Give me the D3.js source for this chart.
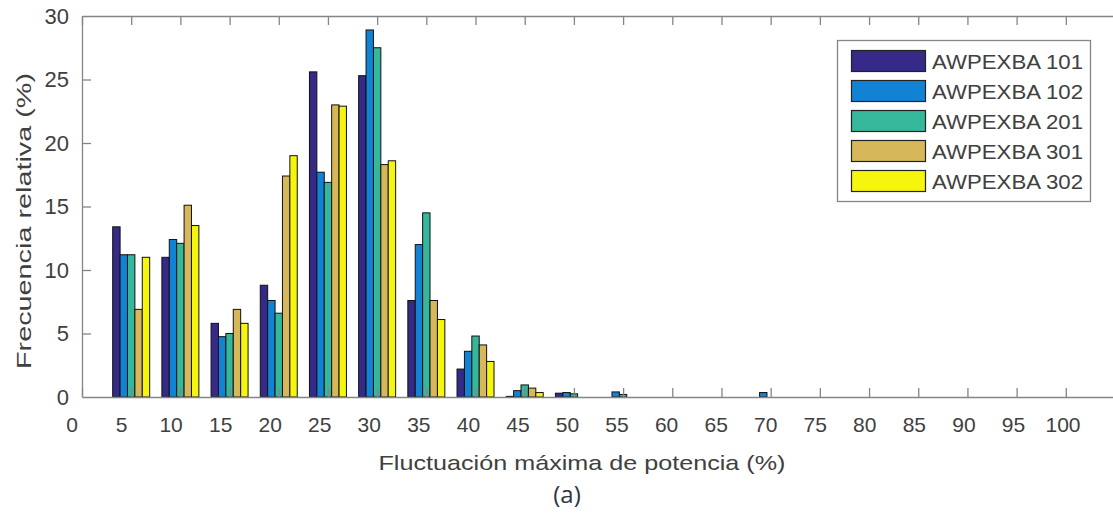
<!DOCTYPE html>
<html>
<head>
<meta charset="utf-8">
<script src="https://cdn.jsdelivr.net/npm/d3@7"></script>
<style>
  html, body { margin: 0; padding: 0; background: #fff; }
  svg { display: block; }
  text { font-family: "Liberation Sans", Arial, sans-serif; }
</style>
</head>
<body>
<svg id="chart" width="1113" height="513"></svg>
<script>
// Bin centres of the maximum power fluctuation (%)
const categories = [5, 10, 15, 20, 25, 30, 35, 40, 45, 50, 55, 60, 65, 70];
const seriesNames = ["AWPEXBA 101", "AWPEXBA 102", "AWPEXBA 201", "AWPEXBA 301", "AWPEXBA 302"];

// Relative frequency (%) per bin, one array per inverter
const awpexba101 = [13.4, 11.0, 5.8, 8.8, 25.6, 25.3, 7.6, 2.2, 0.05, 0.3, 0.0, 0.0, 0.0, 0.0];
const awpexba102 = [11.2, 12.4, 4.75, 7.6, 17.7, 28.9, 12.0, 3.6, 0.5, 0.35, 0.4, 0.0, 0.0, 0.35];
const awpexba201 = [11.2, 12.1, 5.0, 6.6, 16.9, 27.5, 14.5, 4.8, 0.95, 0.25, 0.2, 0.0, 0.0, 0.0];
const awpexba301 = [6.9, 15.1, 6.9, 17.4, 23.0, 18.3, 7.6, 4.1, 0.7, 0.0, 0.0, 0.0, 0.0, 0.0];
const awpexba302 = [11.0, 13.5, 5.8, 19.0, 22.9, 18.6, 6.1, 2.8, 0.35, 0.0, 0.0, 0.0, 0.0, 0.0];
const seriesValues = [awpexba101, awpexba102, awpexba201, awpexba301, awpexba302];

const colors = ["#352a87", "#1283d4", "#35b79b", "#d6b85a", "#f5f50e"];

const xTicks = d3.range(0, 101, 5);
const yTicks = [0, 5, 10, 15, 20, 25, 30];

const xLabel = "Fluctuación máxima de potencia (%)";
const yLabel = "Frecuencia relativa (%)";
const caption = "(a)";

const svg = d3.select("#chart");
const axisColor = "#858585";
const textColor = "#404040";

const x = d3.scaleLinear().domain([0, 105]).range([82, 1115]);
const xLabelPos = d3.scaleLinear().domain([0, 100]).range([72, 1063]);
const y = d3.scaleLinear().domain([0, 30]).range([397, 16]);

// offset of each series inside a bin, in data units
const inner = d3.scaleBand().domain(seriesNames).range([-1.88, 1.88]);

// bars
const rows = [];
categories.forEach((c, i) => {
  seriesNames.forEach((s, j) => {
    rows.push({ c, s, j, v: seriesValues[j][i] });
  });
});

svg.append("g")
  .selectAll("rect")
  .data(rows)
  .join("rect")
  .attr("x", d => x(d.c + inner(d.s)))
  .attr("width", d => x(d.c + inner(d.s) + inner.bandwidth()) - x(d.c + inner(d.s)))
  .attr("y", d => y(d.v))
  .attr("height", d => y(0) - y(d.v))
  .attr("fill", d => colors[d.j])
  .attr("stroke", "#111")
  .attr("stroke-width", 1);

// axes (ticks point inward)
function styleAxis(g) {
  g.selectAll("path.domain").attr("stroke", axisColor).attr("stroke-width", 1.3);
  g.selectAll(".tick line").attr("stroke", axisColor).attr("stroke-width", 1.3);
}

const gxb = svg.append("g")
  .attr("transform", `translate(0,${y(0)})`)
  .call(d3.axisBottom(x).tickValues(xTicks).tickSizeInner(-9).tickSizeOuter(0).tickFormat(""));
styleAxis(gxb);

const gxt = svg.append("g")
  .attr("transform", `translate(0,${y(30)})`)
  .call(d3.axisTop(x).tickValues(xTicks).tickSizeInner(-9).tickSizeOuter(0).tickFormat(""));
styleAxis(gxt);

const gyl = svg.append("g")
  .attr("transform", `translate(${x(0)},0)`)
  .call(d3.axisLeft(y).tickValues(yTicks).tickSizeInner(-9).tickSizeOuter(0).tickPadding(13));
styleAxis(gyl);
gyl.selectAll(".tick text")
  .attr("fill", textColor)
  .style("font-size", "22px")
  .style("font-family", "'Liberation Sans', Arial, sans-serif");
gyl.selectAll(".tick").filter(d => d === 0 || d === 30).select("line").remove();

// x tick labels
svg.append("g")
  .selectAll("text")
  .data(xTicks)
  .join("text")
  .attr("x", d => xLabelPos(d))
  .attr("y", 432)
  .attr("text-anchor", "middle")
  .attr("fill", textColor)
  .style("font-size", "21px")
  .text(d => d);

// axis titles
svg.append("text")
  .attr("x", 582)
  .attr("y", 470)
  .attr("text-anchor", "middle")
  .attr("fill", textColor)
  .attr("textLength", 407)
  .attr("lengthAdjust", "spacingAndGlyphs")
  .style("font-size", "21px")
  .text(xLabel);

svg.append("text")
  .attr("transform", "translate(31,221) rotate(-90)")
  .attr("text-anchor", "middle")
  .attr("fill", textColor)
  .attr("textLength", 296)
  .attr("lengthAdjust", "spacingAndGlyphs")
  .style("font-size", "21px")
  .text(yLabel);

svg.append("text")
  .attr("x", 567)
  .attr("y", 503)
  .attr("text-anchor", "middle")
  .attr("fill", "#2f3440")
  .style("font-size", "24px")
  .style("font-family", "'Open Sans', sans-serif")
  .text(caption);

// legend
const legend = svg.append("g");
legend.append("rect")
  .attr("x", 837.5).attr("y", 40.5)
  .attr("width", 253).attr("height", 161)
  .attr("fill", "#fff")
  .attr("stroke", axisColor)
  .attr("stroke-width", 1.3);

const item = legend.selectAll("g.item")
  .data(seriesNames)
  .join("g")
  .attr("class", "item")
  .attr("transform", (d, i) => `translate(0,${50 + i * 30})`);

item.append("rect")
  .attr("x", 851.5).attr("y", 0.5)
  .attr("width", 74).attr("height", 21)
  .attr("fill", (d, i) => colors[i])
  .attr("stroke", "#222")
  .attr("stroke-width", 1.2);

item.append("text")
  .attr("x", 932)
  .attr("y", 19)
  .attr("fill", textColor)
  .attr("textLength", 151)
  .attr("lengthAdjust", "spacingAndGlyphs")
  .style("font-size", "21px")
  .text(d => d);
</script>
</body>
</html>
